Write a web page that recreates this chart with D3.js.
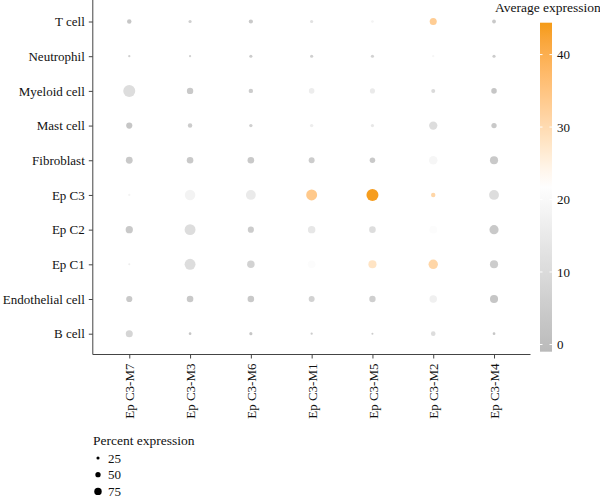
<!DOCTYPE html>
<html>
<head>
<meta charset="utf-8">
<script src="https://cdn.jsdelivr.net/npm/d3@7"></script>
<style>
  body { margin: 0; background: #fff; }
  text { font-family: "Liberation Serif", "DejaVu Serif", serif; fill: #111; }
</style>
</head>
<body>
<div id="chart"></div>
<script>
// categories (bottom to top on y) and modules (x)
const cellTypes = ['B cell', 'Endothelial cell', 'Ep C1', 'Ep C2', 'Ep C3',
  'Fibroblast', 'Mast cell', 'Myeloid cell', 'Neutrophil', 'T cell'];
const modules = ['Ep C3-M7', 'Ep C3-M3', 'Ep C3-M6', 'Ep C3-M1', 'Ep C3-M5', 'Ep C3-M2', 'Ep C3-M4'];

// percent expressed, one row per cell type (same order as cellTypes)
const pctExp = [
  [54, 14, 18, 10, 8, 32, 14],
  [46, 50, 50, 44, 48, 58, 64],
  [8, 90, 58, 60, 64, 76, 64],
  [56, 90, 46, 58, 50, 60, 74],
  [10, 86, 80, 90, 100, 30, 80],
  [52, 50, 50, 44, 40, 68, 64],
  [46, 30, 20, 20, 18, 66, 38],
  [100, 48, 30, 40, 36, 26, 40],
  [10, 10, 18, 18, 18, 10, 18],
  [30, 18, 28, 18, 14, 54, 24]
];
// average expression
const avgExp = [
  [8, 3, 3, 5, 5, 11, 3],
  [4, 4, 4, 7, 6, 17, 3],
  [16, 11, 7, 21, 28, 31, 5],
  [4, 11, 5, 14, 11, 21, 4],
  [18, 18, 15, 34, 44, 31, 11],
  [4, 4, 4, 5, 4, 19, 4],
  [3, 5, 6, 16, 14, 11, 4],
  [11, 4, 5, 16, 15, 10, 3],
  [6, 7, 5, 6, 7, 19, 5],
  [3, 6, 4, 12, 18, 33, 4]
];
const colorTicks = [0, 10, 20, 30, 40];
const sizeTicks = [25, 50, 75];

const width = 600, height = 500;
const plot = {left: 92.8, right: 530.5, top: 0.7, bottom: 354.5};
const serif = '"Liberation Serif", "DejaVu Serif", serif';

const svg = d3.select('#chart').append('svg')
  .attr('width', width)
  .attr('height', height);

const x = d3.scalePoint().domain(modules).range([plot.left, plot.right]).padding(0.6);
const y = d3.scalePoint().domain(cellTypes).range([plot.bottom, plot.top]).padding(0.6);
const r = d3.scaleLinear().domain([0, 100]).range([0.6, 6]);
const color = d3.scaleLinear()
  .domain([-1, 22, 44.4])
  .range(['#bababa', '#ffffff', '#f59b17'])
  .interpolate(d3.interpolateLab);

const points = [];
cellTypes.forEach((c, i) => {
  modules.forEach((m, j) => {
    points.push({cell: c, module: m, pct: pctExp[i][j], avg: avgExp[i][j]});
  });
});

svg.append('g')
  .selectAll('circle')
  .data(points)
  .enter()
  .append('circle')
  .attr('cx', d => x(d.module))
  .attr('cy', d => y(d.cell))
  .attr('r', d => r(d.pct))
  .attr('fill', d => color(d.avg));

// axes
const yAxis = svg.append('g')
  .attr('transform', `translate(${plot.left},0)`)
  .call(d3.axisLeft(y).tickSize(4).tickSizeOuter(0));
yAxis.select('.domain').attr('d', `M0,${plot.top - 1}V${plot.bottom}`);
yAxis.selectAll('text')
  .style('font-family', serif)
  .style('font-size', '13px')
  .attr('x', -8);

const xAxis = svg.append('g')
  .attr('transform', `translate(0,${plot.bottom})`)
  .call(d3.axisBottom(x).tickSize(4).tickSizeOuter(0));
xAxis.select('.domain').attr('d', `M${plot.left},0H${plot.right}`);
xAxis.selectAll('text')
  .style('font-family', serif)
  .style('font-size', '13px')
  .attr('transform', 'rotate(-90)')
  .attr('text-anchor', 'end')
  .attr('x', -9)
  .attr('y', 0)
  .attr('dy', '0.35em');
svg.selectAll('.domain, .tick line').attr('stroke', '#444');

// colour bar
const bar = {x: 540, w: 12, top: 22.7, bottom: 351.7};
const cb = d3.scaleLinear().domain([-1, 44.4]).range([bar.bottom, bar.top]);
const grad = svg.append('defs').append('linearGradient')
  .attr('id', 'grad')
  .attr('x1', 0).attr('x2', 0).attr('y1', 1).attr('y2', 0);
d3.range(0, 1.0001, 0.05).forEach(t => {
  grad.append('stop')
    .attr('offset', t)
    .attr('stop-color', color(-1 + t * 45.4));
});
svg.append('rect')
  .attr('x', bar.x).attr('y', bar.top)
  .attr('width', bar.w).attr('height', bar.bottom - bar.top)
  .attr('fill', 'url(#grad)');

const cbTicks = svg.append('g').selectAll('g')
  .data(colorTicks)
  .enter()
  .append('g')
  .attr('transform', d => `translate(0,${cb(d)})`);
cbTicks.append('line')
  .attr('x1', bar.x).attr('x2', bar.x + 2.5)
  .attr('stroke', '#fff');
cbTicks.append('line')
  .attr('x1', bar.x + bar.w - 2.5).attr('x2', bar.x + bar.w)
  .attr('stroke', '#fff');
cbTicks.append('text')
  .attr('x', bar.x + bar.w + 5)
  .attr('dy', '0.35em')
  .style('font-size', '13px')
  .text(d => d);

svg.append('text')
  .attr('x', 495).attr('y', 12)
  .style('font-size', '13.5px')
  .text('Average expression');

// size legend
svg.append('text')
  .attr('x', 93).attr('y', 445)
  .style('font-size', '13.5px')
  .text('Percent expression');
const sizeLeg = svg.append('g').selectAll('g')
  .data(sizeTicks)
  .enter()
  .append('g')
  .attr('transform', (d, i) => `translate(98,${458 + i * 16.7})`);
sizeLeg.append('circle')
  .attr('r', d => r(d) * 0.8)
  .attr('fill', '#000');
sizeLeg.append('text')
  .attr('x', 10)
  .attr('dy', '0.35em')
  .style('font-size', '13px')
  .text(d => d);
</script>
</body>
</html>
